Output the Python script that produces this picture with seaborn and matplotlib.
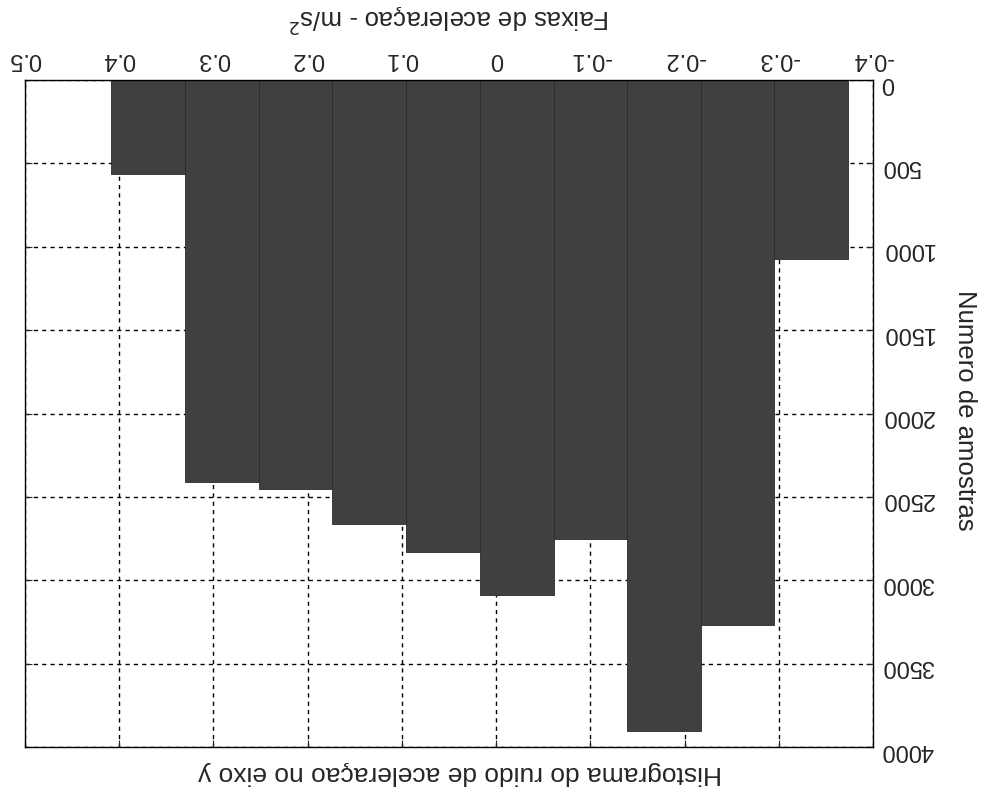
import numpy as np
import seaborn as sns
import matplotlib
matplotlib.use("Agg")
import matplotlib.pyplot as plt

# histogram read from the (upside-down) scan
bin_edges = [-0.373, -0.295, -0.217, -0.139, -0.061, 0.017, 0.096, 0.174, 0.252, 0.330, 0.409]
counts = [1075, 3270, 3906, 2752, 3086, 2832, 2660, 2452, 2410, 566]
x_ticks = [-0.4, -0.3, -0.2, -0.1, 0, 0.1, 0.2, 0.3, 0.4, 0.5]
x_tick_labels = ["-0.4", "-0.3", "-0.2", "-0.1", "0", "0.1", "0.2", "0.3", "0.4", "0.5"]
y_ticks = [0, 500, 1000, 1500, 2000, 2500, 3000, 3500, 4000]

sns.set_style("white")
plt.rcParams["font.family"] = ["Liberation Sans", "DejaVu Sans"]

edges = np.array(bin_edges)
centers = (edges[:-1] + edges[1:]) / 2

fig = plt.figure(figsize=(9.87, 7.98), dpi=100)
ax = fig.add_axes([0.0253, 0.0639, 0.8592, 0.8358])

sns.histplot(x=centers, weights=counts, bins=bin_edges, ax=ax,
             color="#404040", edgecolor="#2a2a2a", linewidth=0.6, alpha=1)

# the scan is rotated 180 degrees: flip both axes
ax.set_xlim(0.5, -0.4)
ax.set_ylim(4000, 0)
ax.set_xticks(x_ticks)
ax.set_xticklabels(x_tick_labels)
ax.set_yticks(y_ticks)

ax.set_axisbelow(True)
ax.grid(True, color="black", linestyle=(0, (3, 3)), linewidth=1.0)

ax.tick_params(axis="both", direction="in", length=5, width=0.8,
               top=True, bottom=True, left=True, right=True,
               labeltop=True, labelbottom=False, labelright=True, labelleft=False,
               labelsize=17, labelrotation=180)
ax.tick_params(axis="x", pad=7)
ax.tick_params(axis="y", pad=6)

for s in ax.spines.values():
    s.set_visible(True)
    s.set_color("black")
    s.set_linewidth(1.0)

ax.set_xlabel("Faixas de aceleraçao - m/s$^2$", fontsize=18.5, rotation=180)
ax.xaxis.set_label_position("top")
ax.xaxis.set_label_coords(0.5, 1.0925)
ax.xaxis.label.set_va("center")

ax.set_ylabel("Numero de amostras", fontsize=18.5, rotation=270)
ax.yaxis.set_label_position("right")
ax.yaxis.set_label_coords(1.108, 0.505)
ax.yaxis.label.set_va("center")

fig.text(0.466, 0.031, "Histograma do ruido de aceleraçao no eixo y",
         fontsize=19, rotation=180, ha="center", va="center")

fig.savefig("out.png", dpi=100)
